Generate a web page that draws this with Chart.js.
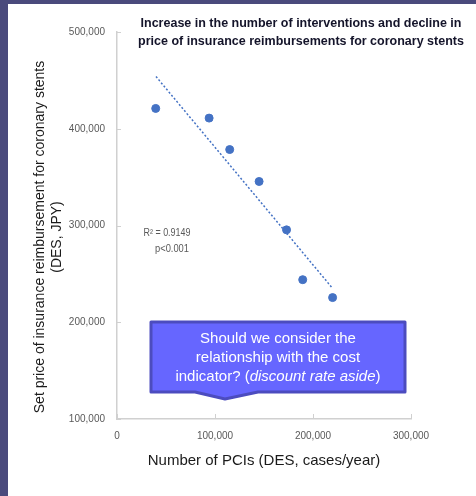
<!DOCTYPE html>
<html>
<head>
<meta charset="utf-8">
<script src="https://cdn.jsdelivr.net/npm/chart.js@4/dist/chart.umd.min.js"></script>
<style>
  html, body { margin: 0; padding: 0; background: #4a4a7c; }
  #wrap { position: absolute; left: 8px; top: 4px; width: 468px; height: 492px; background: #fff; }
</style>
</head>
<body>
<div id="wrap"><canvas id="myChart" width="468" height="492"></canvas></div>
<script>
// PCIs per year (DES) vs set reimbursement price (JPY)
var pciCounts = [39500, 94000, 115000, 145000, 173000, 189500, 220000];
var prices = [421000, 411000, 378500, 345500, 295500, 244000, 225500];
// dotted linear trend, end points
var trendX = [39800, 219600];
var trendY = [454000, 235500];
var xTicks = [0, 100000, 200000, 300000];
var yTicks = [100000, 200000, 300000, 400000, 500000];

var titleLines = ['Increase in the number of interventions and decline in',
                  'price of insurance reimbursements for coronary stents'];
var yTitleLines = ['Set price of insurance reimbursement for coronary stents', '(DES, JPY)'];
var statLines = ['R\u00b2 = 0.9149', 'p<0.001'];

var tickFamily = "'Liberation Sans', Arial, sans-serif";

var extras = {
    id: 'extras',
    afterDraw: function(chart) {
        var c = chart.ctx, xs = chart.scales.x, ys = chart.scales.y;
        c.save();
        // small inside tick marks
        c.strokeStyle = '#d0d0d0';
        c.lineWidth = 1;
        yTicks.forEach(function(v) {
            var y = Math.round(ys.getPixelForValue(v)) + 0.5;
            c.beginPath(); c.moveTo(xs.left, y); c.lineTo(xs.left + 4, y); c.stroke();
        });
        xTicks.forEach(function(v) {
            var x = Math.round(xs.getPixelForValue(v)) + 0.5;
            c.beginPath(); c.moveTo(x, ys.bottom); c.lineTo(x, ys.bottom - 5); c.stroke();
        });

        // title
        c.fillStyle = '#14142a';
        c.font = "bold 12.5px 'Liberation Sans', sans-serif";
        c.textAlign = 'center';
        c.textBaseline = 'middle';
        c.fillText(titleLines[0], 293, 20, 332);
        c.fillText(titleLines[1], 293, 38, 332);

        // y axis title (sits a bit below the plot's centre)
        c.save();
        c.translate(32, 233);
        c.rotate(-Math.PI / 2);
        c.fillStyle = '#1a1a1a';
        c.font = "14px 'Liberation Sans', Arial, sans-serif";
        c.fillText(yTitleLines[0], 0, 0);
        c.fillText(yTitleLines[1], 0, 17);
        c.restore();

        // R2 note
        c.fillStyle = '#595959';
        c.font = "10px 'Liberation Sans', sans-serif";
        c.fillText(statLines[0], 159, 229, 47);
        c.fillText(statLines[1], 164, 245, 34);

        // callout
        c.beginPath();
        c.moveTo(143, 318);
        c.lineTo(397, 318);
        c.lineTo(397, 388);
        c.lineTo(250, 388);
        c.lineTo(217, 395);
        c.lineTo(187, 388);
        c.lineTo(143, 388);
        c.closePath();
        c.fillStyle = '#6666ff';
        c.fill();
        c.strokeStyle = '#4c4cbf';
        c.lineWidth = 3;
        c.lineJoin = 'round';
        c.stroke();

        c.fillStyle = '#ffffff';
        var f = "15px 'Liberation Sans', Arial, sans-serif";
        var fi = "italic 15px 'Liberation Sans', Arial, sans-serif";
        c.font = f;
        c.fillText('Should we consider the', 270, 335);
        c.fillText('relationship with the cost', 270, 354);
        var a = 'indicator? (', b = 'discount rate aside', d = ')';
        c.font = f; var wa = c.measureText(a).width, wd = c.measureText(d).width;
        c.font = fi; var wb = c.measureText(b).width;
        var x0 = 270 - (wa + wb + wd) / 2;
        c.textAlign = 'left';
        c.font = f; c.fillText(a, x0, 373);
        c.font = fi; c.fillText(b, x0 + wa, 373);
        c.font = f; c.fillText(d, x0 + wa + wb, 373);
        c.restore();
    }
};

var ctx = document.getElementById('myChart').getContext('2d');
var chart = new Chart(ctx, {
    type: 'scatter',
    data: {
        datasets: [{
            label: 'Stents',
            data: pciCounts.map(function(x, i) { return {x: x, y: prices[i]}; }),
            backgroundColor: '#4472c4',
            borderColor: '#4472c4',
            pointRadius: 4,
            pointHoverRadius: 4
        },
        {
            label: 'Trend',
            type: 'line',
            data: trendX.map(function(x, i) { return {x: x, y: trendY[i]}; }),
            borderColor: '#4472c4',
            borderWidth: 1.5,
            borderDash: [2, 2],
            pointRadius: 0,
            fill: false
        }]
    },
    options: {
        responsive: false,
        animation: false,
        layout: { padding: { top: 28, right: 65, left: 0, bottom: 0 } },
        plugins: { legend: { display: false }, tooltip: { enabled: false } },
        scales: {
            x: {
                type: 'linear',
                min: 0, max: 300000,
                afterBuildTicks: function(s) { s.ticks = xTicks.map(function(v) { return {value: v}; }); },
                afterFit: function(s) { s.height = 77; },
                grid: { display: false, drawTicks: false },
                border: { display: true, color: '#d0d0d0', width: 1.5 },
                ticks: { color: '#595959', font: { family: tickFamily, size: 10 }, padding: 11 },
                title: {
                    display: true,
                    text: 'Number of PCIs (DES, cases/year)',
                    color: '#1a1a1a',
                    font: { family: "'Liberation Sans', Arial, sans-serif", size: 15 },
                    padding: { top: 0, bottom: 26 }
                }
            },
            y: {
                min: 100000, max: 500000,
                afterBuildTicks: function(s) { s.ticks = yTicks.map(function(v) { return {value: v}; }); },
                afterFit: function(s) { s.width = 109; },
                grid: { display: false, drawTicks: false },
                border: { display: true, color: '#d0d0d0', width: 1.5 },
                ticks: { color: '#595959', font: { family: tickFamily, size: 10 }, padding: 12 },
                title: { display: false }
            }
        }
    },
    plugins: [extras]
});
</script>
</body>
</html>
